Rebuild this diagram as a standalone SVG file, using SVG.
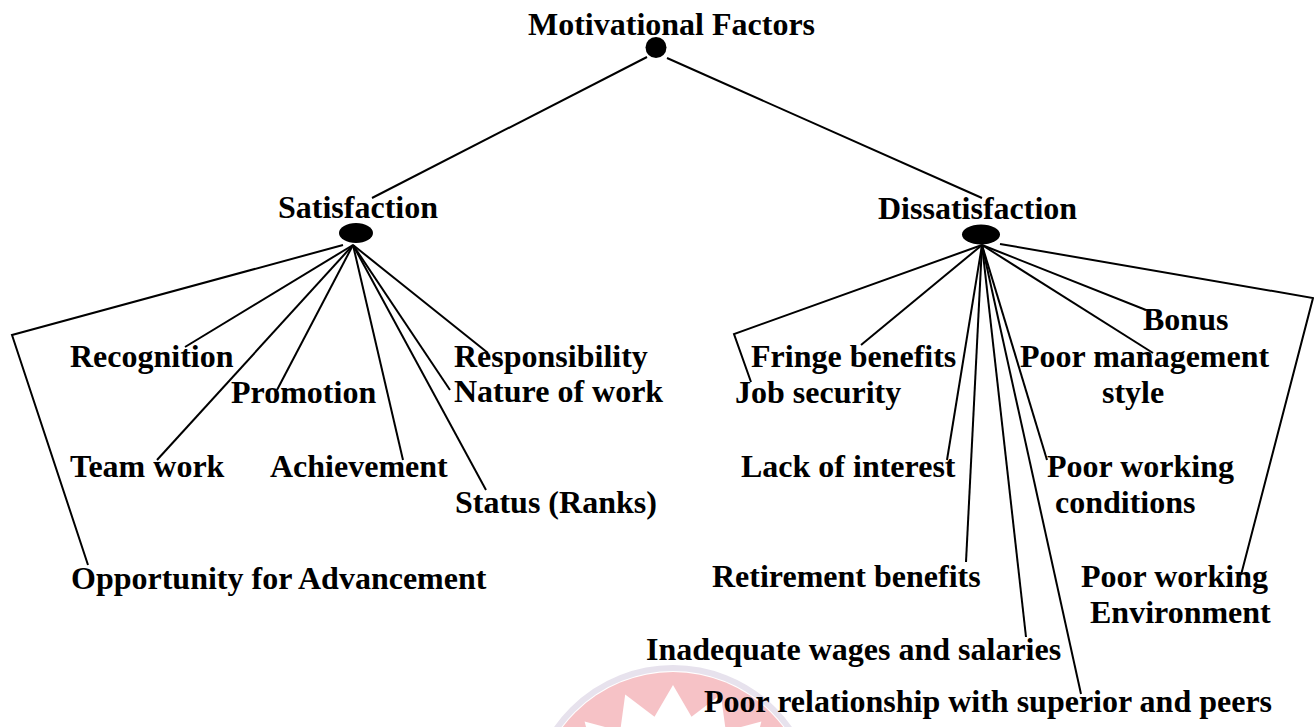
<svg xmlns="http://www.w3.org/2000/svg" width="1314" height="727" viewBox="0 0 1314 727">
<style>
text{font-family:"Liberation Serif","Times New Roman",serif;font-weight:bold;font-size:32px;fill:#000}
.ln{stroke:#000;stroke-width:2;fill:none}
</style>
<rect width="1314" height="727" fill="#fff"/>
<g id="watermark" opacity="0.7">
<circle cx="673" cy="810" r="142" fill="none" stroke="#ddd6e6" stroke-width="6"/>
<circle cx="673" cy="810" r="138" fill="#f3a9af"/>
<polygon fill="#fff" points="673,810 594,757.2 584.6,721.6 620.2,731 625.2,694.5 654.5,716.8 673,685 691.5,716.8 720.8,694.5 725.8,731 761.4,721.6 752,757.2"/>
</g>
<g id="connectors" class="ln">
<line class="ln" x1="647" y1="57" x2="372" y2="198"/>
<line class="ln" x1="667" y1="58" x2="982" y2="198"/>
<polyline class="ln" points="343,245 12,335 88,565"/>
<line class="ln" x1="353" y1="245" x2="185" y2="347"/>
<line class="ln" x1="353" y1="245" x2="157" y2="460"/>
<line class="ln" x1="353" y1="245" x2="277" y2="390"/>
<line class="ln" x1="353" y1="245" x2="403" y2="460"/>
<line class="ln" x1="353" y1="245" x2="486" y2="490"/>
<line class="ln" x1="353" y1="245" x2="450" y2="390"/>
<line class="ln" x1="353" y1="245" x2="488" y2="353"/>
<polyline class="ln" points="982,245 734,334 751,382"/>
<line class="ln" x1="982" y1="245" x2="861" y2="345"/>
<line class="ln" x1="982" y1="245" x2="947" y2="460"/>
<line class="ln" x1="982" y1="245" x2="966" y2="562"/>
<line class="ln" x1="982" y1="245" x2="1026" y2="637"/>
<line class="ln" x1="982" y1="245" x2="1081" y2="694"/>
<line class="ln" x1="982" y1="245" x2="1047" y2="460"/>
<line class="ln" x1="982" y1="245" x2="1153" y2="353"/>
<line class="ln" x1="982" y1="245" x2="1146" y2="310"/>
<polyline class="ln" points="1000,244 1313,298 1241,575"/>
</g>
<g id="root"><text x="528" y="35">Motivational Factors</text><circle cx="656" cy="47.5" r="10.5"/></g>
<g id="satisfaction"><text x="278" y="218">Satisfaction</text><ellipse cx="356" cy="233" rx="17" ry="10"/></g>
<g id="dissatisfaction"><text x="878" y="219">Dissatisfaction</text><ellipse cx="981" cy="234.5" rx="19" ry="10"/></g>
<g id="recognition"><text x="70" y="367">Recognition</text></g>
<g id="promotion"><text x="231" y="403">Promotion</text></g>
<g id="teamwork"><text x="70" y="477">Team work</text></g>
<g id="achievement"><text x="270" y="477">Achievement</text></g>
<g id="opportunity"><text x="71" y="589">Opportunity for Advancement</text></g>
<g id="responsibility"><text x="454" y="367">Responsibility</text></g>
<g id="nature"><text x="454" y="402">Nature of work</text></g>
<g id="status"><text x="455" y="513">Status (Ranks)</text></g>
<g id="fringe"><text x="751" y="367">Fringe benefits</text></g>
<g id="jobsecurity"><text x="735" y="403">Job security</text></g>
<g id="bonus"><text x="1143" y="330">Bonus</text></g>
<g id="management"><text x="1020" y="367">Poor management</text><text x="1102" y="403">style</text></g>
<g id="lackinterest"><text x="741" y="477">Lack of interest</text></g>
<g id="workingconditions"><text x="1047" y="477">Poor working</text><text x="1055" y="513">conditions</text></g>
<g id="retirement"><text x="712" y="587">Retirement benefits</text></g>
<g id="environment"><text x="1081" y="587">Poor working</text><text x="1090" y="623">Environment</text></g>
<g id="wages"><text x="646" y="660">Inadequate wages and salaries</text></g>
<g id="relationship"><text x="704" y="712">Poor relationship with superior and peers</text></g>
</svg>
